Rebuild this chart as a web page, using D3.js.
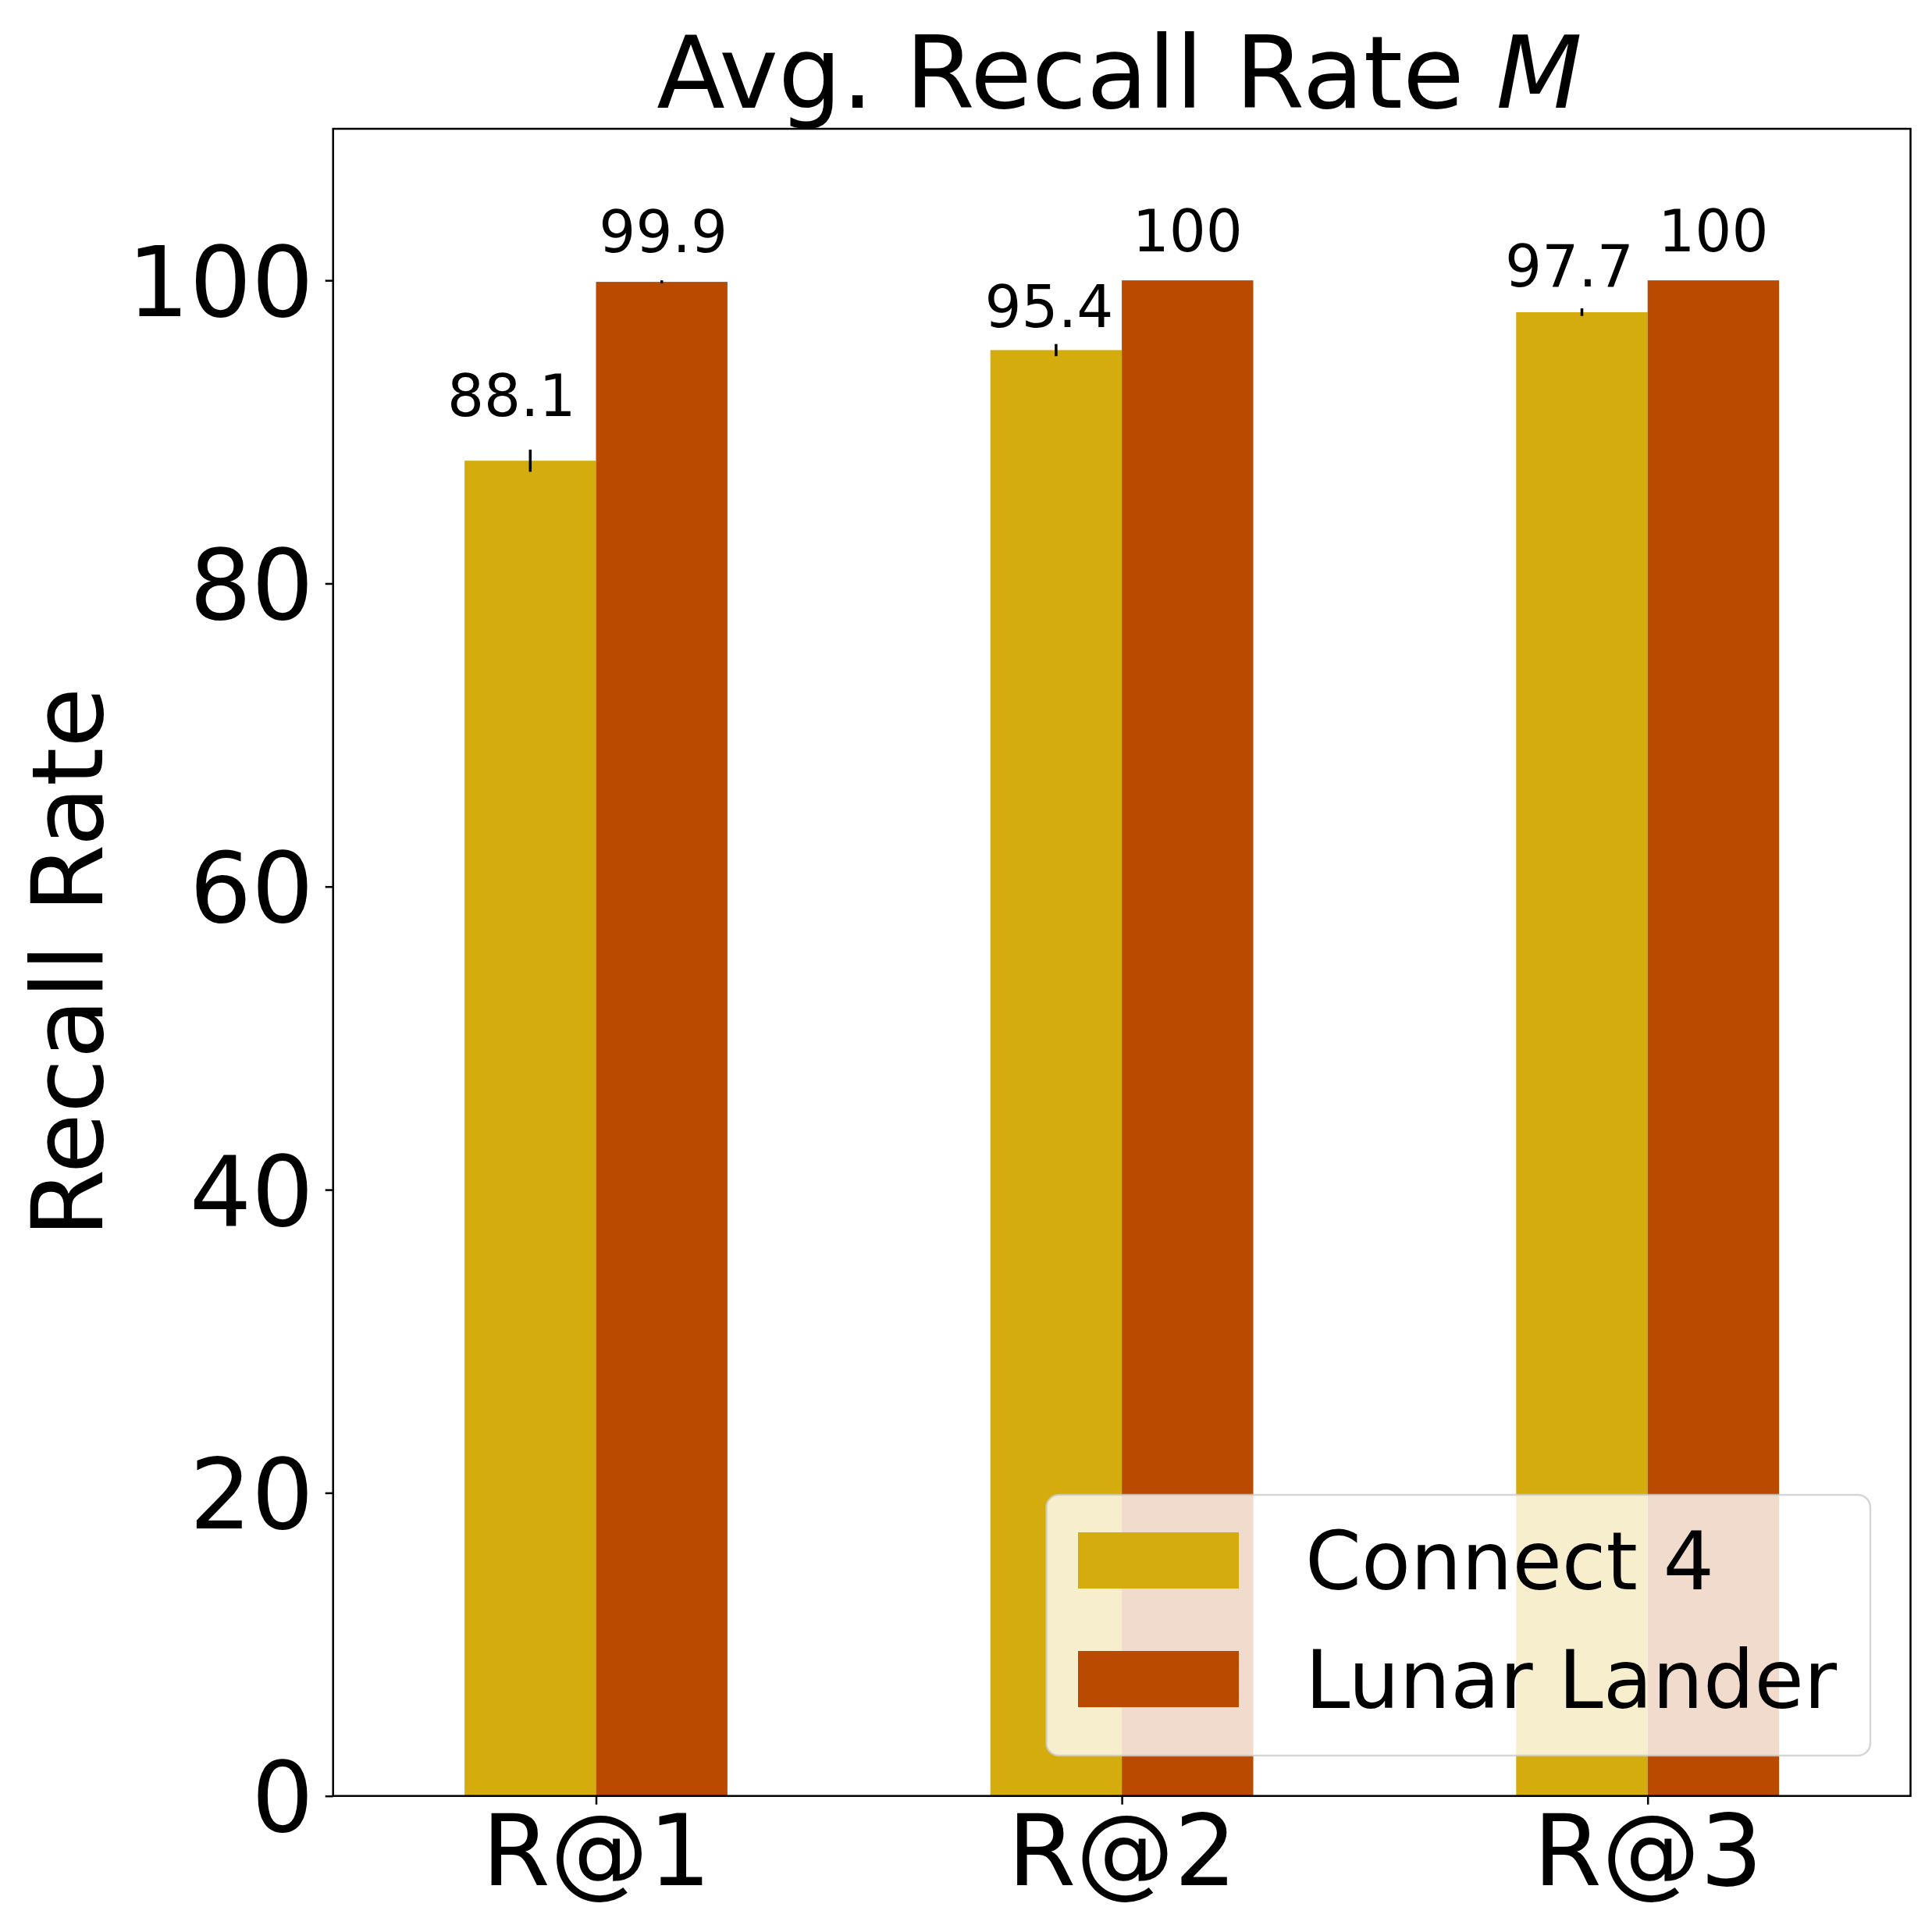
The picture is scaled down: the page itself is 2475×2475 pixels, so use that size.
<!DOCTYPE html>
<html>
<head>
<meta charset="utf-8">
<script src="https://cdn.jsdelivr.net/npm/d3@7"></script>
<style>
  body { margin: 0; background: #fff; }
  text { font-family: "DejaVu Sans", sans-serif; }
</style>
</head>
<body>
<div id="chart-area"></div>
<script>
// data
let categories = ["R@1", "R@2", "R@3"];
let seriesNames = ["Connect 4", "Lunar Lander"];
let connect4 = [88.1, 95.4, 97.9];
let connect4Err = [0.73, 0.4, 0.25];
let connect4Labels = ["88.1", "95.4", "97.7"];
let lunar = [99.9, 100, 100];
let lunarErr = [0.1, 0, 0];
let lunarLabels = ["99.9", "100", "100"];
let yTicks = [0, 20, 40, 60, 80, 100];

// layout
let W = 2475, H = 2475;
let plotLeft = 426.7, plotRight = 2447.5, plotTop = 165, plotBottom = 2300.7;
let barW = 0.25;
let colors = ["#D4AC0D", "#BA4A00"];
// per label nudge in px [dx, dy from bar top]
let c4Shift = [[-24, -57], [-9, -29], [-16, -33]];
let llShift = [[2, -38], [0, -37], [0, -37]];

const svg = d3.select("#chart-area").append("svg")
    .attr("width", W)
    .attr("height", H)

const x = d3.scaleLinear().domain([-0.5, 2.5]).range([plotLeft, plotRight]);
const y = d3.scaleLinear().domain([0, 110]).range([plotBottom, plotTop]);

let rows = categories.map((c, i) => ({
    cat: c, i: i,
    c4: connect4[i], c4e: connect4Err[i], c4l: connect4Labels[i],
    ll: lunar[i], lle: lunarErr[i], lll: lunarLabels[i]
}));

// bars
svg.selectAll(".c4").data(rows).enter().append("rect")
    .attr("x", d => x(d.i - barW))
    .attr("y", d => y(d.c4))
    .attr("width", x(barW) - x(0))
    .attr("height", d => y(0) - y(d.c4))
    .attr("fill", colors[0])

svg.selectAll(".ll").data(rows).enter().append("rect")
    .attr("x", d => x(d.i))
    .attr("y", d => y(d.ll))
    .attr("width", x(barW) - x(0))
    .attr("height", d => y(0) - y(d.ll))
    .attr("fill", colors[1])

// error bars
svg.selectAll(".c4err").data(rows).enter().append("line")
    .attr("x1", d => x(d.i - barW / 2)).attr("x2", d => x(d.i - barW / 2))
    .attr("y1", d => y(d.c4 - d.c4e)).attr("y2", d => y(d.c4 + d.c4e))
    .attr("stroke", "#000").attr("stroke-width", 3.5)

svg.selectAll(".llerr").data(rows.filter(d => d.lle > 0)).enter().append("line")
    .attr("x1", d => x(d.i + barW / 2)).attr("x2", d => x(d.i + barW / 2))
    .attr("y1", d => y(d.ll - d.lle)).attr("y2", d => y(d.ll + d.lle))
    .attr("stroke", "#000").attr("stroke-width", 3.5)

// value labels
svg.selectAll(".c4lab").data(rows).enter().append("text")
    .attr("x", d => x(d.i - barW / 2) + c4Shift[d.i][0])
    .attr("y", d => y(d.c4) + c4Shift[d.i][1])
    .attr("text-anchor", "middle")
    .attr("font-size", "74px")
    .text(d => d.c4l)

svg.selectAll(".lllab").data(rows).enter().append("text")
    .attr("x", d => x(d.i + barW / 2) + llShift[d.i][0])
    .attr("y", d => y(d.ll) + llShift[d.i][1])
    .attr("text-anchor", "middle")
    .attr("font-size", "74px")
    .text(d => d.lll)

// axes
const xAxis = svg.append("g")
    .attr("transform", `translate(0, ${plotBottom})`)
    .call(d3.axisBottom(x).tickValues([0, 1, 2]).tickFormat(i => categories[i]).tickSize(11).tickPadding(14))
xAxis.select(".domain").remove()
xAxis.selectAll("line").attr("stroke-width", 2.5)
xAxis.selectAll("text").attr("font-size", "126px").attr("fill", "#000")
    .attr("font-family", "DejaVu Sans")

const yAxis = svg.append("g")
    .attr("transform", `translate(${plotLeft}, 0)`)
    .call(d3.axisLeft(y).tickValues(yTicks).tickSize(10).tickPadding(15))
yAxis.select(".domain").remove()
yAxis.selectAll("line").attr("stroke-width", 2.5)
yAxis.selectAll("text").attr("font-size", "125px").attr("fill", "#000")
    .attr("font-family", "DejaVu Sans").attr("dy", "0.36em")

// frame
svg.append("rect")
    .attr("x", plotLeft).attr("y", plotTop)
    .attr("width", plotRight - plotLeft).attr("height", plotBottom - plotTop)
    .attr("fill", "none").attr("stroke", "#000").attr("stroke-width", 2.5)

// title
let title = svg.append("text")
    .attr("x", (plotLeft + plotRight) / 2 - 3)
    .attr("y", 137.7)
    .attr("text-anchor", "middle")
    .attr("font-size", "128px")
title.append("tspan").text("Avg. Recall Rate ")
title.append("tspan").attr("font-style", "italic").text("M")

// y label
svg.append("text")
    .attr("transform", `translate(131, ${(plotTop + plotBottom) / 2}) rotate(-90)`)
    .attr("text-anchor", "middle")
    .attr("font-size", "126px")
    .text("Recall Rate")

// legend
const legend = svg.append("g")
legend.append("rect")
    .attr("x", 1340.5).attr("y", 1915)
    .attr("width", 2396 - 1340.5).attr("height", 2249 - 1915)
    .attr("rx", 16).attr("ry", 16)
    .attr("fill", "#fff").attr("fill-opacity", 0.8)
    .attr("stroke", "#ccc").attr("stroke-opacity", 0.8).attr("stroke-width", 2.5)

seriesNames.forEach((name, i) => {
    let py = 1963 + i * 152;
    legend.append("rect")
        .attr("x", 1381).attr("y", py)
        .attr("width", 206).attr("height", 72)
        .attr("fill", colors[i])
    legend.append("text")
        .attr("x", 1672).attr("y", py + 73)
        .attr("font-size", "103px")
        .text(name)
})
</script>
</body>
</html>
